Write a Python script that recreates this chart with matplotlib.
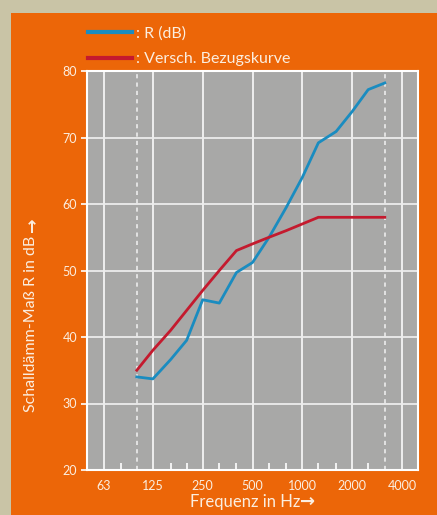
import numpy as np
import matplotlib
matplotlib.use("Agg")
import matplotlib.pyplot as plt
from matplotlib.patches import Rectangle

plt.rcParams['font.family'] = ['Lato', 'DejaVu Sans']

# third-octave band centre frequencies (Hz)
freqs = [100, 125, 160, 200, 250, 315, 400, 500, 630, 800, 1000, 1250, 1600, 2000, 2500, 3150]
# measured sound reduction index R (dB)
r_db = [34.0, 33.7, 36.6, 39.5, 45.6, 45.1, 49.7, 51.2, 55.0, 59.5, 64.0, 69.2, 70.9, 73.9, 77.2, 78.2]
# shifted reference curve (dB)
ref_db = [35, 38, 41, 44, 47, 50, 53, 54, 55, 56, 57, 58, 58, 58, 58, 58]

major_ticks = [63, 125, 250, 500, 1000, 2000, 4000]
minor_ticks = [80, 160, 200, 315, 400, 630, 800, 1250, 1600, 2500]
dashed_lines = [100, 3150]
y_ticks = [20, 30, 40, 50, 60, 70, 80]

beige = '#c9c4a6'
orange = '#ec6608'
grey = '#a8a8a7'
txt = '#fbeee0'
blue = '#1a8cc0'
red = '#c41a2e'

fig = plt.figure(figsize=(4.37, 5.15), dpi=100, facecolor=beige)
fig.patches.append(Rectangle((11 / 437, 0), 1, (515 - 13) / 515, transform=fig.transFigure,
                             facecolor=orange, edgecolor='none', zorder=-10))

ax = fig.add_axes([87 / 437, 45 / 515, 331 / 437, 399 / 515])
ax.set_facecolor(grey)
ax.set_xscale('log')
ax.set_xlim(50, 5000)
ax.set_ylim(20, 80)

for f in major_ticks:
    ax.axvline(f, color='#f4f4f4', lw=1.3, zorder=1)
for f in dashed_lines:
    ax.axvline(f, color='#ececec', lw=1.2, ls=(0, (2.5, 2.5)), zorder=1)
for y in y_ticks[1:-1]:
    ax.axhline(y, color='#ececec', lw=1.3, zorder=1)

ax.plot(freqs, r_db, color=blue, lw=2.0, label=': R (dB)', zorder=3)
ax.plot(freqs, ref_db, color=red, lw=2.0, label=': Versch. Bezugskurve', zorder=3)

ax.set_xticks(major_ticks)
ax.set_xticklabels([str(f) for f in major_ticks])
ax.set_xticks(minor_ticks, minor=True)
ax.set_xticklabels([], minor=True)
ax.tick_params(axis='x', which='major', length=0, pad=7, labelsize=9, labelcolor=txt)
ax.tick_params(axis='x', which='minor', direction='in', length=5, width=1.2, color='white')
ax.set_yticks(y_ticks)
ax.tick_params(axis='y', length=4, width=1.2, color='white', pad=3, labelsize=9, labelcolor=txt)

for s in ax.spines.values():
    s.set_color('white')
    s.set_linewidth(1.5)

# axis titles with a heavy arrow appended
xl = fig.text(245 / 437, 1 - 502 / 515, 'Frequenz in Hz', color=txt, fontsize=12,
              ha='center', va='center')
ax.annotate('\u2192', xy=(1, 0.5), xycoords=xl, ha='left', va='center', color=txt,
            fontsize=13, family='DejaVu Sans', fontweight='bold', annotation_clip=False)
yl = fig.text(31 / 437, 1 - 324 / 515, 'Schalldämm-Maß R in dB', color=txt, fontsize=11.5,
              ha='center', va='center', rotation=90)
ax.annotate('\u2192', xy=(0.55, 1), xycoords=yl, xytext=(0, 3), textcoords='offset points',
            ha='center', va='bottom', color=txt, fontsize=12.5, family='DejaVu Sans',
            fontweight='bold', rotation=90, annotation_clip=False)

leg = ax.legend(loc='upper left', bbox_to_anchor=(82 / 437, 1 - 20 / 515), bbox_transform=fig.transFigure,
                frameon=False, fontsize=11.5, handlelength=2.7, handletextpad=0.25,
                labelspacing=0.7, borderaxespad=0)
for line in leg.get_lines():
    line.set_linewidth(3)
for t in leg.get_texts():
    t.set_color(txt)

fig.savefig('out.png', dpi=100, facecolor=beige)
